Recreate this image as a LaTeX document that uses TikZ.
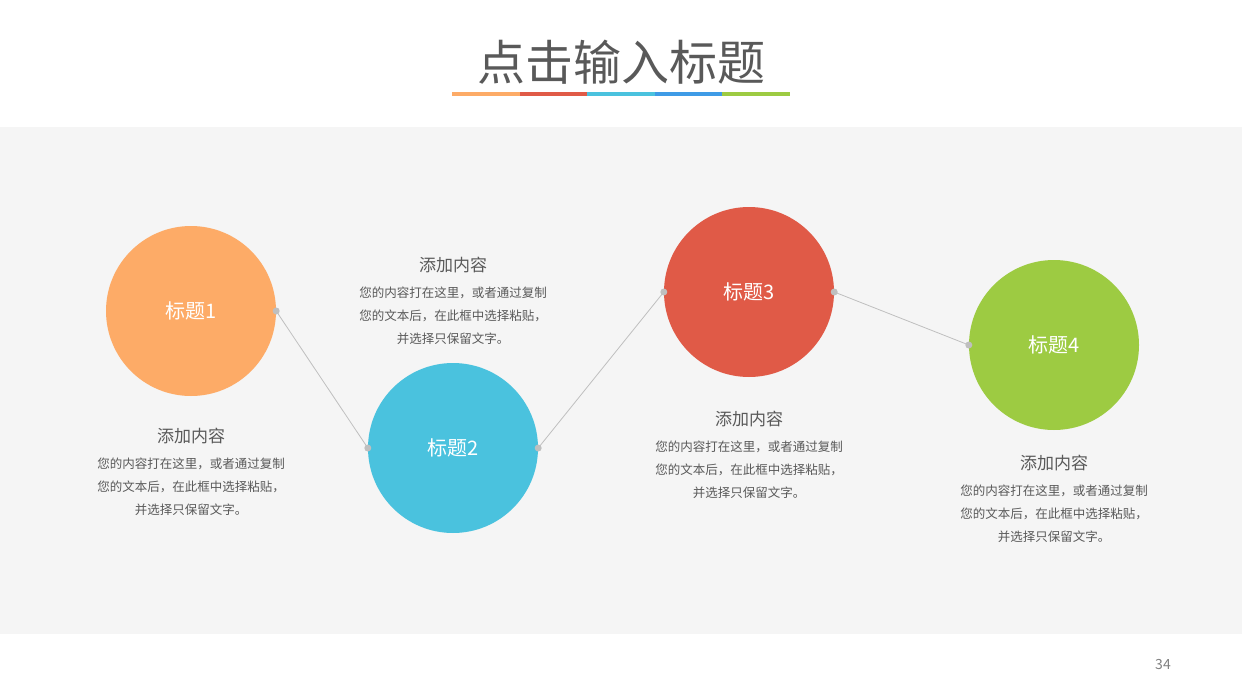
\documentclass[tikz,border=0pt]{standalone}
\usepackage{fontspec}
\setmainfont{Noto Sans CJK SC}
\definecolor{corange}{HTML}{FDAB67}
\definecolor{cblue}{HTML}{4AC2DE}
\definecolor{cred}{HTML}{E05A47}
\definecolor{cgreen}{HTML}{9DCB42}
\definecolor{ubl}{HTML}{3E9BE6}
\definecolor{txt}{HTML}{595959}
\definecolor{band}{HTML}{F5F5F5}
\tikzset{
 bigc/.style={circle,minimum size=170pt,inner sep=0pt,text=white,font=\fontsize{20}{24}\selectfont},
 head/.style={text=txt,font=\fontsize{17}{20}\selectfont},
 body/.style={text=txt,align=center,font=\fontsize{12.5}{23}\selectfont},
 link/.style={draw=black!25,line width=0.8pt},
 dot/.style={circle,fill=black!25,inner sep=0pt,minimum size=7pt}
}
\begin{document}
\begin{tikzpicture}[x=1pt,y=-1pt]
\useasboundingbox (0,0) rectangle (1242,693);
\fill[band] (0,127) rectangle (1242,634);
\node[text=txt,font=\fontsize{48}{56}\selectfont] (title) at (621,62) {点击输入标题};
\foreach \c [count=\i from 0] in {corange,cred,cblue,ubl,cgreen}
  \fill[\c] (452+\i*67.6,91.5) rectangle (452+\i*67.6+67.6,95.5);
\node[bigc,fill=corange] (c1) at (191,311) {标题1};
\node[bigc,fill=cblue] (c2) at (453,448) {标题2};
\node[bigc,fill=cred] (c3) at (749,292) {标题3};
\node[bigc,fill=cgreen] (c4) at (1054,345) {标题4};
\draw[link] (c1.east) -- (c2.west);
\draw[link] (c2.east) -- (c3.west);
\draw[link] (c3.east) -- (c4.west);
\foreach \a in {c1.east,c2.west,c2.east,c3.west,c3.east,c4.west} \node[dot] at (\a) {};
\node[head] (h1) at (191,436) {添加内容};
\node[body,anchor=north] (b1) at (191,454) {您的内容打在这里，或者通过复制\\您的文本后，在此框中选择粘贴，\\并选择只保留文字。};
\node[head] (h2) at (453,265) {添加内容};
\node[body,anchor=north] (b2) at (453,283) {您的内容打在这里，或者通过复制\\您的文本后，在此框中选择粘贴，\\并选择只保留文字。};
\node[head] (h3) at (749,419) {添加内容};
\node[body,anchor=north] (b3) at (749,437) {您的内容打在这里，或者通过复制\\您的文本后，在此框中选择粘贴，\\并选择只保留文字。};
\node[head] (h4) at (1054,463) {添加内容};
\node[body,anchor=north] (b4) at (1054,481) {您的内容打在这里，或者通过复制\\您的文本后，在此框中选择粘贴，\\并选择只保留文字。};
\node[text=black!50,font=\fontsize{14}{16}\selectfont] (pg) at (1163,665) {34};
\end{tikzpicture}
\end{document}
